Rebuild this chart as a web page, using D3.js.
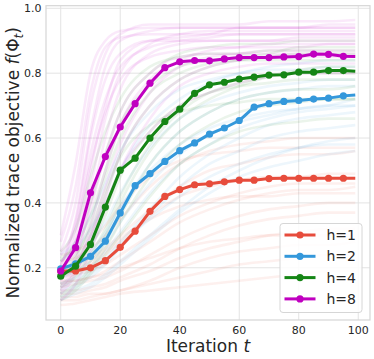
<!DOCTYPE html>
<html><head><meta charset="utf-8">
<script src="https://cdn.jsdelivr.net/npm/d3@7"></script>
<style>
html,body{margin:0;padding:0;background:#fff;}
svg{display:block;font-family:"DejaVu Sans",sans-serif;}
.tick-label{font-size:11px;fill:#262626;}
.axis-title{font-size:17px;fill:#262626;}
.legend-label{font-size:14px;fill:#262626;}
</style></head>
<body><div id="chart"></div>
<script>
/* Normalized trace objective vs iteration, bold mean runs per h over faint individual runs */
var series=["h=1","h=2","h=4","h=8"];
var colors=["#e74c3c","#3498db","#158515","#c000c0"];
var meanX=[0,5,10,15,20,25,30,35,40,45,50,55,60,65,70,75,80,85,90,95,99];
var meanH1=[0.190,0.190,0.200,0.222,0.263,0.313,0.374,0.420,0.441,0.456,0.459,0.465,0.470,0.470,0.475,0.476,0.476,0.476,0.476,0.476,0.476];
var meanH2=[0.197,0.212,0.235,0.282,0.369,0.453,0.490,0.528,0.561,0.585,0.612,0.631,0.654,0.695,0.706,0.713,0.716,0.720,0.723,0.730,0.733];
var meanH4=[0.174,0.205,0.272,0.387,0.501,0.538,0.600,0.651,0.689,0.738,0.764,0.772,0.782,0.788,0.794,0.795,0.803,0.803,0.808,0.808,0.806];
var meanH8=[0.190,0.262,0.431,0.543,0.634,0.706,0.769,0.817,0.835,0.839,0.838,0.844,0.848,0.848,0.848,0.850,0.851,0.859,0.858,0.852,0.851];
var markX=[0,5,10,15,20,25,30,35,40,45,50,55,60,65,70,75,80,85,90,95];

/* faint individual runs, sampled at traceX */
var traceX=[0,5,10,15,20,30,40,50,60,70,80,90,99];
var runsH1=[
[0.18,0.19,0.21,0.24,0.28,0.36,0.42,0.45,0.47,0.48,0.48,0.49,0.49],
[0.12,0.12,0.13,0.14,0.16,0.19,0.23,0.26,0.28,0.30,0.31,0.32,0.32],
[0.22,0.23,0.26,0.30,0.35,0.45,0.52,0.56,0.58,0.59,0.60,0.60,0.60],
[0.085,0.09,0.10,0.11,0.12,0.13,0.14,0.15,0.16,0.17,0.18,0.19,0.19],
[0.15,0.16,0.17,0.19,0.22,0.28,0.34,0.38,0.41,0.43,0.44,0.44,0.45],
[0.20,0.21,0.23,0.26,0.30,0.38,0.45,0.50,0.52,0.54,0.55,0.55,0.56],
[0.13,0.13,0.14,0.15,0.17,0.21,0.26,0.30,0.33,0.35,0.36,0.37,0.37],
[0.17,0.18,0.19,0.21,0.24,0.30,0.36,0.40,0.43,0.45,0.46,0.46,0.46],
[0.11,0.11,0.12,0.12,0.13,0.15,0.17,0.19,0.21,0.22,0.23,0.24,0.24],
[0.24,0.25,0.28,0.33,0.39,0.48,0.53,0.55,0.56,0.57,0.57,0.57,0.57],
[0.14,0.15,0.16,0.17,0.19,0.24,0.29,0.33,0.36,0.38,0.39,0.40,0.40],
[0.16,0.16,0.17,0.18,0.20,0.23,0.26,0.28,0.29,0.30,0.30,0.30,0.30],
[0.10,0.10,0.11,0.12,0.13,0.16,0.20,0.23,0.25,0.26,0.27,0.27,0.28],
[0.19,0.20,0.22,0.25,0.29,0.35,0.39,0.41,0.42,0.42,0.43,0.43,0.43]];
var runsH2=[
[0.18,0.20,0.24,0.30,0.38,0.52,0.62,0.68,0.72,0.74,0.75,0.76,0.76],
[0.12,0.14,0.17,0.21,0.26,0.36,0.45,0.52,0.56,0.60,0.62,0.63,0.64],
[0.22,0.26,0.32,0.40,0.50,0.64,0.72,0.77,0.80,0.82,0.83,0.84,0.84],
[0.15,0.17,0.20,0.25,0.31,0.43,0.52,0.58,0.63,0.66,0.68,0.69,0.70],
[0.10,0.12,0.14,0.17,0.21,0.29,0.37,0.43,0.48,0.51,0.53,0.55,0.56],
[0.20,0.22,0.27,0.34,0.43,0.57,0.66,0.71,0.74,0.76,0.77,0.78,0.78],
[0.14,0.16,0.19,0.23,0.28,0.38,0.48,0.55,0.60,0.64,0.66,0.67,0.68],
[0.17,0.19,0.22,0.27,0.34,0.46,0.55,0.61,0.65,0.67,0.69,0.70,0.70],
[0.24,0.28,0.36,0.46,0.56,0.68,0.75,0.78,0.80,0.81,0.81,0.82,0.82],
[0.11,0.13,0.15,0.18,0.22,0.30,0.38,0.45,0.50,0.54,0.57,0.59,0.60],
[0.19,0.21,0.25,0.31,0.39,0.50,0.58,0.63,0.66,0.68,0.69,0.70,0.72],
[0.13,0.15,0.18,0.22,0.27,0.35,0.42,0.48,0.52,0.55,0.57,0.58,0.58]];
var runsH4=[
[0.18,0.22,0.30,0.42,0.55,0.70,0.78,0.82,0.84,0.85,0.86,0.86,0.86],
[0.12,0.15,0.20,0.28,0.36,0.52,0.62,0.68,0.72,0.74,0.75,0.75,0.76],
[0.22,0.28,0.40,0.55,0.68,0.80,0.86,0.88,0.89,0.89,0.90,0.90,0.90],
[0.15,0.18,0.24,0.32,0.42,0.58,0.68,0.74,0.77,0.79,0.80,0.80,0.80],
[0.20,0.24,0.32,0.44,0.54,0.64,0.68,0.70,0.71,0.72,0.72,0.72,0.72],
[0.10,0.13,0.18,0.24,0.30,0.42,0.52,0.58,0.62,0.64,0.65,0.66,0.66],
[0.25,0.32,0.48,0.62,0.72,0.82,0.85,0.86,0.86,0.87,0.87,0.87,0.87],
[0.14,0.17,0.22,0.30,0.40,0.56,0.66,0.72,0.76,0.79,0.81,0.82,0.82],
[0.17,0.20,0.26,0.36,0.48,0.62,0.70,0.74,0.76,0.77,0.78,0.78,0.78],
[0.19,0.23,0.34,0.48,0.60,0.74,0.80,0.83,0.84,0.84,0.84,0.84,0.84],
[0.11,0.14,0.19,0.26,0.34,0.48,0.58,0.64,0.68,0.70,0.71,0.72,0.72],
[0.23,0.27,0.36,0.50,0.64,0.76,0.82,0.84,0.85,0.86,0.88,0.88,0.88]];
var runsH8=[
[0.20,0.35,0.62,0.82,0.90,0.93,0.94,0.94,0.94,0.94,0.94,0.94,0.94],
[0.15,0.22,0.40,0.60,0.75,0.86,0.89,0.90,0.90,0.90,0.91,0.91,0.91],
[0.25,0.40,0.70,0.86,0.92,0.95,0.95,0.95,0.95,0.96,0.96,0.96,0.964],
[0.12,0.18,0.30,0.45,0.58,0.74,0.82,0.85,0.86,0.87,0.87,0.87,0.87],
[0.18,0.30,0.55,0.72,0.82,0.88,0.90,0.91,0.92,0.92,0.92,0.92,0.92],
[0.22,0.28,0.45,0.66,0.80,0.89,0.92,0.93,0.93,0.93,0.93,0.93,0.93],
[0.14,0.20,0.33,0.50,0.64,0.78,0.84,0.87,0.88,0.89,0.89,0.89,0.89],
[0.28,0.45,0.74,0.88,0.91,0.92,0.92,0.92,0.92,0.92,0.92,0.92,0.92],
[0.16,0.24,0.38,0.55,0.68,0.80,0.85,0.86,0.86,0.86,0.86,0.86,0.86],
[0.20,0.26,0.50,0.70,0.84,0.90,0.91,0.92,0.94,0.94,0.94,0.94,0.94],
[0.10,0.15,0.25,0.38,0.50,0.66,0.76,0.80,0.82,0.83,0.83,0.83,0.83],
[0.24,0.34,0.60,0.78,0.86,0.90,0.90,0.90,0.90,0.90,0.90,0.90,0.90],
[0.13,0.19,0.28,0.42,0.55,0.70,0.78,0.82,0.84,0.85,0.85,0.85,0.85],
[0.30,0.52,0.80,0.90,0.93,0.94,0.94,0.94,0.94,0.94,0.94,0.95,0.95],
[0.17,0.21,0.30,0.40,0.50,0.62,0.70,0.74,0.77,0.79,0.80,0.80,0.80],
[0.21,0.32,0.52,0.68,0.78,0.85,0.87,0.88,0.88,0.88,0.88,0.89,0.89]];
var yTicks=[0.2,0.4,0.6,0.8,1.0];
var xTicks=[0,20,40,60,80,100];

var means=[meanH1,meanH2,meanH4,meanH8], runs=[runsH1,runsH2,runsH4,runsH8];

var W=374,H=359, m={left:46,right:4,top:5.7,bottom:39};
var svg=d3.select("#chart").append("svg").attr("width",W).attr("height",H);
var x=d3.scaleLinear().domain([-4.95,103.95]).range([m.left,W-m.right]);
var y=d3.scaleLinear().domain([0.039,1.008]).range([H-m.bottom,m.top]);

/* grid */
var grid=svg.append("g");
grid.selectAll("line.gx").data(xTicks).enter().append("line")
    .attr("x1",function(d){return x(d);}).attr("x2",function(d){return x(d);})
    .attr("y1",y.range()[0]).attr("y2",y.range()[1]).attr("stroke","#e3e3e3").attr("stroke-width",1);
grid.selectAll("line.gy").data(yTicks).enter().append("line")
    .attr("y1",function(d){return y(d);}).attr("y2",function(d){return y(d);})
    .attr("x1",x.range()[0]).attr("x2",x.range()[1]).attr("stroke","#e3e3e3").attr("stroke-width",1);

/* faint runs */
var line=d3.line().curve(d3.curveMonotoneX);
var bg=svg.append("g");
runs.forEach(function(set,i){
    set.forEach(function(r){
        bg.append("path").attr("fill","none").attr("stroke",colors[i]).attr("stroke-width",2.6)
            .attr("stroke-opacity",0.085)
            .attr("d",line(r.map(function(v,k){return [x(traceX[k]),y(v)];})));
    });
});

/* bold mean runs with markers every 5 iterations */
var fg=svg.append("g");
means.forEach(function(s,i){
    fg.append("path").attr("fill","none").attr("stroke",colors[i]).attr("stroke-width",3)
        .attr("stroke-linejoin","round")
        .attr("d",d3.line()(s.map(function(v,k){return [x(meanX[k]),y(v)];})));
    fg.selectAll(null).data(markX).enter().append("circle")
        .attr("cx",function(d){return x(d);})
        .attr("cy",function(d){return y(s[meanX.indexOf(d)]);})
        .attr("r",3.6).attr("fill",colors[i]);
});

/* frame */
svg.append("rect").attr("x",x.range()[0]).attr("y",y.range()[1])
    .attr("width",x.range()[1]-x.range()[0]).attr("height",y.range()[0]-y.range()[1])
    .attr("fill","none").attr("stroke","#d6d6d6").attr("stroke-width",1.2);

/* tick labels */
svg.selectAll("text.xt").data(xTicks).enter().append("text").attr("class","tick-label")
    .attr("x",function(d){return x(d);}).attr("y",334).attr("text-anchor","middle").text(function(d){return d;});
svg.selectAll("text.yt").data(yTicks).enter().append("text").attr("class","tick-label")
    .attr("x",41.5).attr("y",function(d){return y(d)+4;}).attr("text-anchor","end")
    .text(function(d){return d3.format(".1f")(d);});

/* axis titles */
var xt=svg.append("text").attr("class","axis-title").attr("x",(x.range()[0]+x.range()[1])/2).attr("y",352)
    .attr("text-anchor","middle");
xt.append("tspan").text("Iteration ");
xt.append("tspan").attr("font-style","italic").text("t");
var yt=svg.append("text").attr("class","axis-title").attr("text-anchor","middle")
    .attr("transform","translate(18.5,"+((y.range()[0]+y.range()[1])/2)+") rotate(-90)");
yt.append("tspan").text("Normalized trace objective ");
yt.append("tspan").attr("font-style","italic").text("f");
yt.append("tspan").text("(\u03A6");
yt.append("tspan").attr("font-style","italic").attr("font-size","12px").attr("dy",4).text("t");
yt.append("tspan").attr("dy",-4).text(")");

/* legend */
var leg=svg.append("g").attr("transform","translate(280,223.5)");
leg.append("rect").attr("width",82).attr("height",89).attr("rx",3)
    .attr("fill","#fff").attr("fill-opacity",0.85).attr("stroke","#d6d6d6");
series.forEach(function(s,i){
    var ly=11.5+i*21.3;
    leg.append("line").attr("x1",4.5).attr("x2",35.5).attr("y1",ly).attr("y2",ly)
        .attr("stroke",colors[i]).attr("stroke-width",3);
    leg.append("circle").attr("cx",20).attr("cy",ly).attr("r",3.6).attr("fill",colors[i]);
    leg.append("text").attr("class","legend-label").attr("x",46.5).attr("y",ly+5).text(s);
});
</script></body></html>
